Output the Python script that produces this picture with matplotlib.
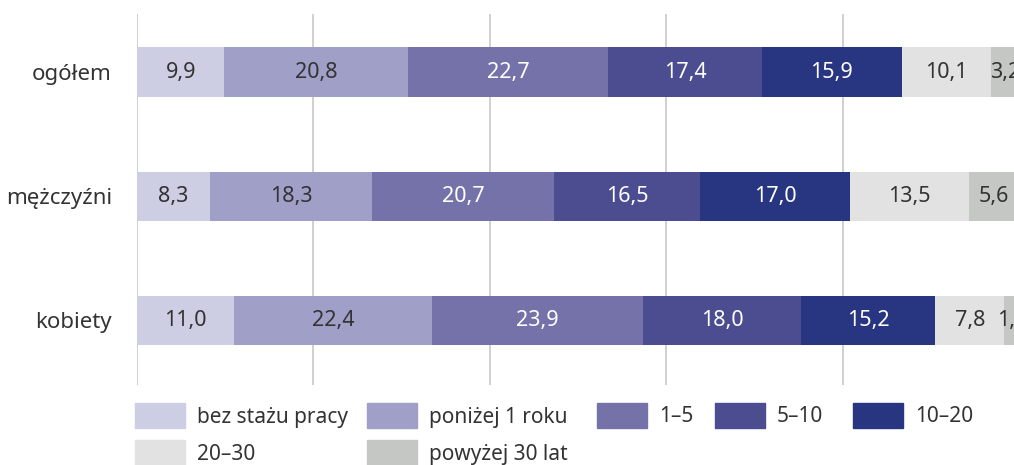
import matplotlib.pyplot as plt
from matplotlib.patches import Rectangle

plt.rcParams['font.family'] = ['Noto Sans', 'DejaVu Sans']

# data
groups = ['ogółem', 'mężczyźni', 'kobiety']
series = ['bez stażu pracy', 'poniżej 1 roku', '1–5', '5–10', '10–20', '20–30', 'powyżej 30 lat']
values = [
    [9.9, 8.3, 11.0],
    [20.8, 18.3, 22.4],
    [22.7, 20.7, 23.9],
    [17.4, 16.5, 18.0],
    [15.9, 17.0, 15.2],
    [10.1, 13.5, 7.8],
    [3.2, 5.6, 1.7],
]

colors = ['#cdcde3', '#9f9fc8', '#7472a8', '#4b4d90', '#283580', '#e2e2e2', '#c5c7c5']
text_colors = ['#333333', '#333333', 'white', 'white', 'white', '#333333', '#333333']

fig = plt.figure(figsize=(10.14, 4.65), dpi=100)
ax = fig.add_axes([0.1351, 0.172, 0.8649, 0.798])

y = list(range(len(groups)))
left = [0.0] * len(groups)
for vals, name, c, tc in zip(values, series, colors, text_colors):
    ax.barh(y, vals, left=left, height=0.4, color=c, label=name, zorder=2)
    for i, v in enumerate(vals):
        ax.text(left[i] + v / 2, y[i], f'{v:.1f}'.replace('.', ','), ha='center', va='center',
                color=tc, fontsize=15.5, zorder=3, clip_on=False)
    left = [l + v for l, v in zip(left, vals)]

ax.set_xlim(0, 99.4)
ax.set_ylim(2.52, -0.47)
ax.set_xticks([0, 20, 40, 60, 80])
ax.xaxis.grid(True, color='#c8c8c8', linewidth=1.2, zorder=0)
ax.set_axisbelow(True)
ax.tick_params(length=0, labelbottom=False)
ax.set_yticks(y)
ax.set_yticklabels(groups, fontsize=16, color='#333333')
ax.tick_params(axis='y', pad=18)
for s in ax.spines.values():
    s.set_visible(False)

# legend drawn by hand to follow the original layout
leg_pos = [(135, 403), (367, 403), (597, 403), (715, 403), (853, 403), (135, 440), (367, 440)]
W, H = 1014, 465
for (px, py), name, c in zip(leg_pos, series, colors):
    fig.add_artist(Rectangle((px / W, 1 - (py + 25) / H), 50 / W, 25 / H,
                             transform=fig.transFigure, color=c))
    fig.text((px + 62) / W, 1 - (py + 14) / H, name, fontsize=15, color='#333333',
             va='center', ha='left')

fig.savefig('out.png', dpi=100)
